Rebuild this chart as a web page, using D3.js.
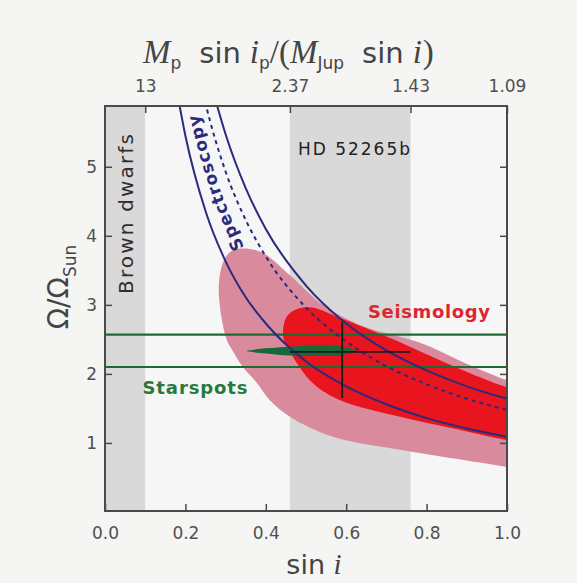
<!DOCTYPE html>
<html>
<head>
<meta charset="utf-8">
<script src="https://cdn.jsdelivr.net/npm/d3@7"></script>
<style>
  html, body { margin: 0; padding: 0; background: #f5f5f3; }
  svg { display: block; }
</style>
</head>
<body>
<svg id="chart" width="577" height="583"></svg>
<script>
// ---- data ----
const xTicks = [0.0, 0.2, 0.4, 0.6, 0.8, 1.0];
const yTicks = [1, 2, 3, 4, 5];
const topTickPos = [0.10, 0.46, 0.76, 1.00];
const topTickLabels = ["13", "2.37", "1.43", "1.09"];

// shaded bands in sin i
const brownDwarfBand = [0.0, 0.10];
const planetBand = [0.46, 0.76];

// spectroscopy: Omega/Omega_sun versus sin i
const specLowerS = [0.18, 0.2, 0.25, 0.3, 0.35, 0.4, 0.5, 0.6, 0.7, 0.8, 0.9, 1.0];
const specLowerW = [6.06, 5.45, 4.36, 3.63, 3.11, 2.73, 2.18, 1.82, 1.56, 1.36, 1.21, 1.09];
const specMidS = [0.24, 0.25, 0.3, 0.35, 0.4, 0.5, 0.6, 0.7, 0.8, 0.9, 1.0];
const specMidW = [6.17, 5.92, 4.93, 4.23, 3.70, 2.96, 2.47, 2.11, 1.85, 1.64, 1.48];
const specUpperS = [0.27, 0.3, 0.35, 0.4, 0.5, 0.6, 0.7, 0.8, 0.9, 1.0];
const specUpperW = [6.07, 5.47, 4.69, 4.10, 3.28, 2.73, 2.34, 2.05, 1.82, 1.64];

// seismology confidence regions (outline, sin i / Omega)
const seisOuterS = [0.299, 0.323, 0.386, 0.460, 0.542, 0.634, 0.784, 0.891, 1.0, 1.04, 1.04, 1.0, 0.734, 0.567, 0.460, 0.410, 0.378, 0.343, 0.316, 0.303, 0.286, 0.284];
const seisOuterW = [3.68, 3.80, 3.77, 3.43, 3.00, 2.71, 2.45, 2.17, 1.91, 1.85, 0.60, 0.65, 0.90, 1.09, 1.38, 1.62, 1.87, 2.10, 2.35, 2.49, 2.97, 3.36];
const seisInnerS = [0.443, 0.453, 0.478, 0.515, 0.572, 0.647, 0.734, 0.821, 0.908, 1.0, 1.04, 1.04, 1.0, 0.858, 0.734, 0.585, 0.522, 0.485, 0.460, 0.445];
const seisInnerW = [2.64, 2.84, 2.94, 2.96, 2.84, 2.67, 2.46, 2.23, 2.01, 1.81, 1.78, 1.00, 1.04, 1.22, 1.38, 1.62, 1.84, 2.09, 2.32, 2.49];

// starspots: rotation period limits and combined constraint
const starspotLimits = [2.57, 2.10];
const spotLensS = [0.353, 0.40, 0.46, 0.53, 0.59, 0.625, 0.59, 0.53, 0.46, 0.40];
const spotLensW = [2.33, 2.37, 2.395, 2.41, 2.395, 2.335, 2.275, 2.26, 2.265, 2.295];

// combined estimate with error bars
const bestS = 0.59, bestW = 2.32;
const bestSRange = [0.46, 0.76];
const bestWRange = [1.65, 2.75];

// spectroscopy label runs up the middle of the band
const labelS = [0.335, 0.30, 0.26, 0.23, 0.208, 0.19];
const labelW = [3.80, 4.23, 4.88, 5.52, 6.10, 6.70];

// ---- layout ----
const svg = d3.select("#chart");
const x = d3.scaleLinear().domain([0, 1]).range([105, 507]);
const y = d3.scaleLinear().domain([0, 5.88]).range([512, 106]);
const pLeft = x(0), pRight = x(1), pTop = y(5.88), pBottom = 511;

const ink = "#4a4a4a";
const blue = "#2b2b7e";
const green = "#1e6b30";
const font = "DejaVu Sans, sans-serif";
const serif = "Liberation Serif, serif";

svg.append("rect").attr("width", 577).attr("height", 583).attr("fill", "#f5f5f3");

const defs = svg.append("defs");
defs.append("clipPath").attr("id", "plotClip")
  .append("rect").attr("x", pLeft).attr("y", pTop).attr("width", pRight - pLeft).attr("height", pBottom - pTop);

const plot = svg.append("g").attr("clip-path", "url(#plotClip)");
plot.append("rect").attr("x", pLeft).attr("y", pTop).attr("width", pRight - pLeft).attr("height", pBottom - pTop)
  .attr("fill", "#f6f6f6");

// shaded bands
[brownDwarfBand, planetBand].forEach(b => {
  plot.append("rect")
    .attr("x", x(b[0])).attr("y", pTop)
    .attr("width", x(b[1]) - x(b[0])).attr("height", pBottom - pTop)
    .attr("fill", "#d9d9d9");
});

const zip = (a, b) => a.map((v, i) => [v, b[i]]);
const area = d3.line().x(d => x(d[0])).y(d => y(d[1])).curve(d3.curveCatmullRomClosed.alpha(0.5));
const curve = d3.line().x(d => x(d[0])).y(d => y(d[1])).curve(d3.curveMonotoneX);

// seismology regions
plot.append("path").attr("d", area(zip(seisOuterS, seisOuterW))).attr("fill", "#d98a9c");
plot.append("path").attr("d", area(zip(seisInnerS, seisInnerW))).attr("fill", "#e8141e");

// starspot limits
starspotLimits.forEach(w => {
  plot.append("line").attr("x1", pLeft).attr("x2", pRight).attr("y1", y(w)).attr("y2", y(w))
    .attr("stroke", green).attr("stroke-width", 2.2);
});
plot.append("path").attr("d", area(zip(spotLensS, spotLensW))).attr("fill", "#17693a");

// spectroscopy curves
plot.append("path").attr("d", curve(zip(specLowerS, specLowerW)))
  .attr("fill", "none").attr("stroke", blue).attr("stroke-width", 2);
plot.append("path").attr("d", curve(zip(specUpperS, specUpperW)))
  .attr("fill", "none").attr("stroke", blue).attr("stroke-width", 2);
plot.append("path").attr("d", curve(zip(specMidS, specMidW)))
  .attr("fill", "none").attr("stroke", blue).attr("stroke-width", 2).attr("stroke-dasharray", "4,4");

// best estimate cross
plot.append("line").attr("x1", x(bestSRange[0])).attr("x2", x(bestSRange[1]))
  .attr("y1", y(bestW)).attr("y2", y(bestW)).attr("stroke", "#1a1a1a").attr("stroke-width", 1.8);
plot.append("line").attr("x1", x(bestS)).attr("x2", x(bestS))
  .attr("y1", y(bestWRange[0])).attr("y2", y(bestWRange[1])).attr("stroke", "#1a1a1a").attr("stroke-width", 1.8);

// spectroscopy label along the band
defs.append("path").attr("id", "specPath")
  .attr("d", d3.line().x(d => x(d[0])).y(d => y(d[1])).curve(d3.curveBasis)(zip(labelS, labelW)));
plot.append("text")
  .attr("font-family", font).attr("font-size", 17).attr("font-weight", "bold")
  .attr("fill", blue)
  .append("textPath").attr("href", "#specPath").attr("startOffset", 0)
  .attr("textLength", 142).attr("dominant-baseline", "middle")
  .text("Spectroscopy");

// region labels
plot.append("text").attr("transform", `translate(${x(0.05) + 8},214) rotate(-90)`)
  .attr("text-anchor", "middle").attr("font-family", font)
  .attr("font-size", 20).attr("fill", "#2e2e2e").attr("textLength", 160).text("Brown dwarfs");
plot.append("text").attr("x", 354).attr("y", 155).attr("text-anchor", "middle")
  .attr("font-family", font).attr("font-size", 17).attr("fill", "#222")
  .attr("textLength", 112).text("HD 52265b");
plot.append("text").attr("x", 429).attr("y", 318).attr("text-anchor", "middle")
  .attr("font-family", font).attr("font-size", 18).attr("font-weight", "bold")
  .attr("fill", "#dc2630").attr("textLength", 122).text("Seismology");
plot.append("text").attr("x", 195).attr("y", 394).attr("text-anchor", "middle")
  .attr("font-family", font).attr("font-size", 18).attr("font-weight", "bold")
  .attr("fill", "#267a3c").attr("textLength", 105).text("Starspots");

// frame
svg.append("rect").attr("x", pLeft).attr("y", pTop).attr("width", pRight - pLeft).attr("height", pBottom - pTop)
  .attr("fill", "none").attr("stroke", ink).attr("stroke-width", 2);

// axes with inward ticks
svg.append("g").attr("transform", `translate(0,${pBottom})`)
  .call(d3.axisBottom(x).tickValues(xTicks).tickFormat(d3.format(".1f")).tickSizeInner(-7).tickSizeOuter(0).tickPadding(16))
  .call(g => g.select(".domain").remove())
  .call(g => g.selectAll("line").attr("stroke", ink).attr("stroke-width", 1.5))
  .call(g => g.selectAll("text").attr("font-family", font).attr("font-size", 17).attr("fill", "#505050"));

svg.append("g").attr("transform", `translate(${pLeft},0)`)
  .call(d3.axisLeft(y).tickValues(yTicks).tickFormat(d3.format("d")).tickSizeInner(-7).tickSizeOuter(0).tickPadding(8))
  .call(g => g.select(".domain").remove())
  .call(g => g.selectAll("line").attr("stroke", ink).attr("stroke-width", 1.5))
  .call(g => g.selectAll("text").attr("font-family", font).attr("font-size", 17).attr("fill", "#505050"));

svg.append("g").attr("transform", `translate(${pRight},0)`)
  .call(d3.axisRight(y).tickValues(yTicks).tickSizeInner(-7).tickSizeOuter(0).tickFormat(""))
  .call(g => g.select(".domain").remove())
  .call(g => g.selectAll("line").attr("stroke", ink).attr("stroke-width", 1.5));

svg.append("g").attr("transform", `translate(0,${pTop})`)
  .call(d3.axisTop(x).tickValues(topTickPos).tickFormat((d, i) => topTickLabels[i]).tickSizeInner(-7).tickSizeOuter(0).tickPadding(14))
  .call(g => g.select(".domain").remove())
  .call(g => g.selectAll("line").attr("stroke", ink).attr("stroke-width", 1.5))
  .call(g => g.selectAll("text").attr("font-family", font).attr("font-size", 17).attr("fill", "#505050"));

// axis titles
const xt = svg.append("text").attr("x", 314).attr("y", 574).attr("text-anchor", "middle")
  .attr("font-family", font).attr("font-size", 27).attr("fill", "#444");
xt.append("tspan").text("sin ");
xt.append("tspan").attr("font-family", serif).attr("font-style", "italic").attr("font-size", 29).text("i");

// top title: M_p sin i_p / (M_Jup sin i)
const tt = svg.append("text").attr("x", 143).attr("y", 63)
  .attr("font-family", font).attr("font-size", 29).attr("fill", "#444");
const ital = (dx) => tt.append("tspan").attr("dx", dx).attr("font-family", serif)
  .attr("font-style", "italic").attr("font-size", 33);
const sub = (t) => tt.append("tspan").attr("font-size", 17).attr("dy", 6).text(t);
ital(0).text("M");
sub("p");
tt.append("tspan").attr("dx", 18).attr("dy", -6).text("sin");
ital(9).text("i");
sub("p");
tt.append("tspan").attr("dy", -6).attr("font-family", serif).attr("font-size", 33).text("/(");
ital(0).text("M");
sub("Jup");
tt.append("tspan").attr("dx", 18).attr("dy", -6).text("sin");
ital(9).text("i");
tt.append("tspan").attr("dx", 1).attr("font-family", serif).attr("font-size", 33).text(")");

const yt = svg.append("text").attr("transform", "translate(68,287) rotate(-90)").attr("text-anchor", "middle")
  .attr("font-family", font).attr("font-size", 28).attr("fill", "#444");
yt.append("tspan").text("Ω/Ω");
yt.append("tspan").attr("font-size", 17).attr("dy", 8).text("Sun");
</script>
</body>
</html>
